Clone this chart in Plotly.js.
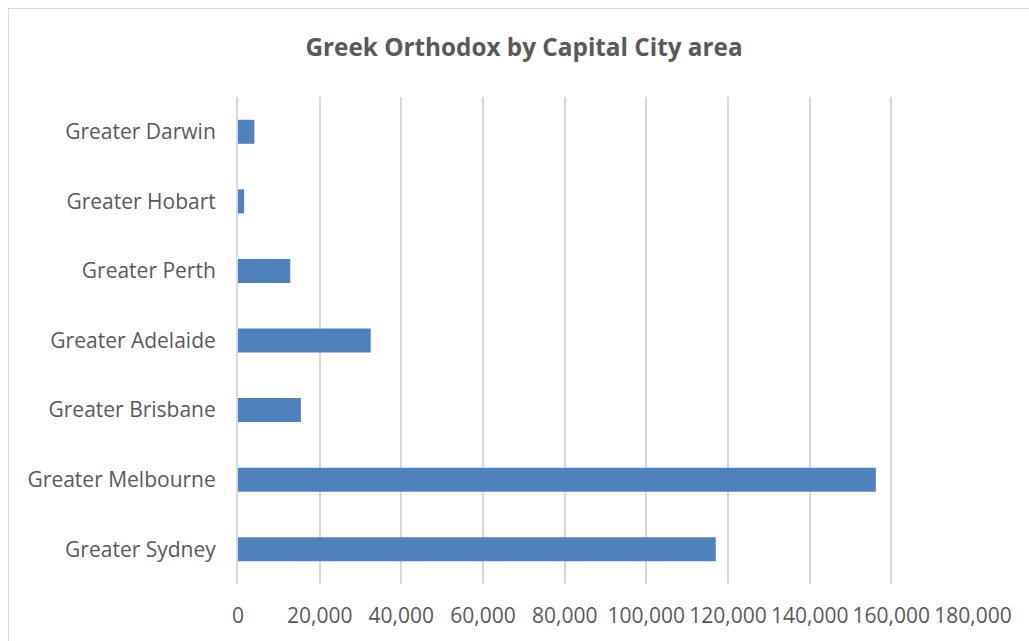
<!DOCTYPE html>
<html>
<head>
<meta charset="utf-8">
<script src="https://cdn.plot.ly/plotly-3.0.1.min.js"></script>
<style>
  html, body { margin: 0; padding: 0; background: #fff; overflow: hidden; }
  #frame { position: absolute; left: 8px; top: 8px; width: 1040px; height: 660px; border: 1px solid #d9d9d9; box-sizing: border-box; pointer-events: none; z-index: 5; }
  #chart { position: absolute; left: 0; top: 0; width: 1029px; height: 641px; }
</style>
</head>
<body>
<div id="chart"></div>
<div id="frame"></div>
<script>
const categories = ["Greater Sydney", "Greater Melbourne", "Greater Brisbane", "Greater Adelaide", "Greater Perth", "Greater Hobart", "Greater Darwin"];
const values = [117000, 156200, 15400, 32500, 12800, 1500, 4000];
const tickValues = [0, 20000, 40000, 60000, 80000, 100000, 120000, 140000, 160000, 180000];
const tickLabels = ["0", "20,000", "40,000", "60,000", "80,000", "100,000", "120,000", "140,000", "160,000", "180,000"];
const chartTitle = "Greek Orthodox by Capital City area";

const font = "'Open Sans', 'Noto Sans', sans-serif";

Plotly.newPlot("chart", [{
  type: "bar",
  orientation: "h",
  y: categories,
  x: values,
  marker: { color: "#4f81bd", line: { width: 0 } },
  hoverinfo: "x+y"
}], {
  width: 1029,
  height: 641,
  paper_bgcolor: "#ffffff",
  plot_bgcolor: "#ffffff",
  margin: { l: 238, r: 56, t: 97, b: 57 },
  bargap: 0.655,
  showlegend: false,
  title: {
    text: "<b>" + chartTitle + "</b>",
    x: 524 / 1029, xanchor: "center", xref: "container",
    y: 1 - 47 / 641, yref: "container", yanchor: "middle",
    font: { family: font, size: 24.3, color: "#595959" }
  },
  xaxis: {
    range: [0, 180000],
    tickvals: tickValues,
    ticktext: tickLabels,
    showgrid: true,
    gridcolor: "#d9d9d9",
    gridwidth: 2,
    zeroline: false,
    showline: false,
    ticks: "",
    ticklabelstandoff: 17,
    tickfont: { family: font, size: 21, color: "#595959" },
    fixedrange: true
  },
  yaxis: {
    type: "category",
    showgrid: false,
    zeroline: false,
    showline: true,
    linecolor: "#d9d9d9",
    linewidth: 2,
    ticks: "",
    ticklabelstandoff: 16,
    tickfont: { family: font, size: 21, color: "#595959" },
    fixedrange: true
  }
}, { displayModeBar: false, staticPlot: true });
</script>
</body>
</html>
